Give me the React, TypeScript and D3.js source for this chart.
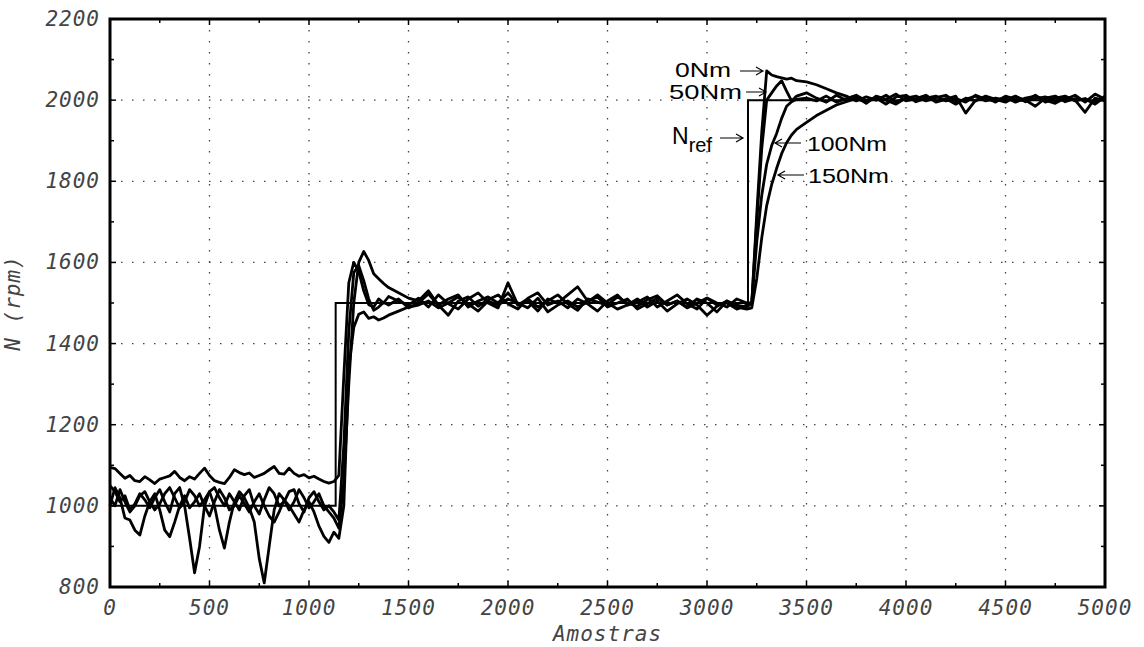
import React from "react";
import * as d3 from "d3";

// Sample index grid (Amostras)
const samples = [
  0, 25, 50, 75, 100, 125, 150, 175, 200, 225, 250, 275, 300, 325, 350, 375, 400, 425, 450, 475, 500, 525, 550, 575, 600, 625, 650, 675, 700, 725, 750, 775, 800, 825, 850, 875, 900, 925, 950, 975, 1000, 1025, 1050, 1075, 1100,
  1125, 1150, 1175, 1200, 1225, 1250, 1275, 1300, 1325, 1350, 1375, 1400,
  1450, 1500, 1550, 1600, 1650, 1700, 1750, 1800, 1850, 1900, 1950, 2000, 2050, 2100, 2150, 2200, 2250, 2300, 2350, 2400, 2450, 2500, 2550, 2600, 2650, 2700, 2750, 2800, 2850, 2900, 2950, 3000, 3050, 3100, 3150, 3200,
  3225, 3250, 3275, 3300, 3325, 3350, 3375, 3400, 3425, 3450,
  3500, 3550, 3600, 3650, 3700, 3750, 3800, 3850, 3900, 3950, 4000, 4050, 4100, 4150, 4200, 4250, 4300, 4350, 4400, 4450, 4500, 4550, 4600, 4650, 4700, 4750, 4800, 4850, 4900, 4950, 5000,
];

// Speed (rpm) for each load
const n0Nm = [
  1095, 1092, 1080, 1068, 1075, 1062, 1060, 1072, 1064, 1055, 1066, 1070, 1074, 1085, 1070, 1062, 1072, 1066, 1080, 1093, 1075, 1062, 1058, 1055, 1070, 1089, 1082, 1077, 1081, 1070, 1075, 1080, 1089, 1097, 1080, 1078, 1093, 1080, 1073, 1077, 1069, 1073, 1066, 1060, 1056,
  1060, 1075, 1320, 1550, 1600, 1578, 1530, 1496, 1490, 1510, 1500, 1516,
  1505, 1495, 1512, 1490, 1520, 1498, 1485, 1510, 1525, 1500, 1488, 1550, 1495, 1505, 1480, 1510, 1500, 1520, 1540, 1505, 1515, 1490, 1500, 1510, 1485, 1498, 1512, 1495, 1505, 1490, 1510, 1500, 1478, 1505, 1495, 1490,
  1500, 1720, 1920, 2072, 2062, 2058, 2055, 2052, 2054, 2048,
  2045, 2038, 2028, 2018, 2010, 1998, 2008, 2000, 2012, 1995, 2005, 2010, 1998, 2006, 2012, 1996, 2002, 2010, 1998, 2005, 2000, 2010, 1996, 2004, 2008, 1998, 2002, 2012, 1995, 2015, 2002,
];

const n50Nm = [
  1050, 1035, 1010, 1025, 990, 1005, 1030, 1015, 995, 1020, 1040, 1010, 985, 1030, 1045, 1000, 920, 835, 900, 1000, 1035, 1045, 1020, 1000, 1030, 1010, 990, 1025, 1040, 1000, 980, 1015, 1045, 1030, 1000, 1010, 1035, 1040, 1005, 985, 1020, 1035, 1010, 990, 1000,
  985, 965, 1150, 1430, 1575, 1592, 1555, 1510, 1482, 1490, 1502, 1495,
  1510, 1488, 1500, 1522, 1495, 1470, 1505, 1515, 1492, 1508, 1520, 1498, 1485, 1512, 1525, 1495, 1505, 1488, 1510, 1498, 1480, 1505, 1520, 1495, 1502, 1515, 1490, 1505, 1520, 1498, 1485, 1512, 1500, 1490, 1510, 1500,
  1500, 1700, 1880, 2000, 2018, 2035, 2048, 2022, 1998, 2010,
  2018, 2005, 1995, 2012, 2000, 2008, 1992, 2010, 2002, 2015, 1998, 2004, 2012, 1995, 2002, 2010, 1968, 2000, 2008, 1995, 2010, 2002, 1998, 2012, 1995, 2005, 2010, 1998, 2004, 1990, 2008,
];

const n100Nm = [
  1020, 1000, 1040, 1010, 985, 1000, 1025, 1035, 1010, 990, 1005, 1030, 1045, 1020, 995, 1010, 1040, 1025, 1000, 1015, 1035, 1000, 940, 896, 960, 1010, 1035, 1020, 995, 960, 870, 810, 900, 990, 1030, 1015, 990, 1010, 1040, 1020, 995, 1010, 1030, 1000, 985,
  970, 945, 1060, 1300, 1500, 1600, 1627, 1605, 1572, 1560, 1548, 1538,
  1525, 1512, 1505, 1530, 1495, 1510, 1520, 1490, 1505, 1515, 1500, 1525, 1495, 1510, 1490, 1505, 1520, 1498, 1482, 1510, 1502, 1495, 1515, 1500, 1492, 1508, 1518, 1495, 1505, 1488, 1500, 1512, 1495, 1500, 1485, 1495,
  1500, 1650, 1765, 1842, 1888, 1918, 1955, 1985, 1996, 2002,
  2005, 1998, 2010, 1995, 2004, 2012, 1998, 2005, 1990, 2008, 2012, 1996, 2005, 2010, 1998, 2004, 1995, 2012, 2002, 1998, 2008, 1995, 2005, 2010, 2000, 1992, 2006, 2000, 1970, 2005, 1998,
];

const n150Nm = [
  1000, 1045, 1020, 970, 965, 940, 928, 975, 1010, 1030, 990, 940, 924, 960, 1000, 1025, 995, 1010, 1030, 1000, 975, 1010, 1040, 1020, 990, 1000, 1025, 1005, 985, 1010, 1030, 1000, 975, 960, 985, 1015, 1000, 980, 960, 990, 1010, 985, 950, 925, 910,
  935, 920, 1000, 1340, 1440, 1472, 1478, 1462, 1466, 1458, 1463, 1470,
  1480, 1490, 1495, 1505, 1488, 1500, 1515, 1498, 1480, 1505, 1495, 1510, 1500, 1488, 1512, 1478, 1495, 1505, 1490, 1502, 1520, 1500, 1485, 1495, 1510, 1490, 1505, 1480, 1498, 1510, 1495, 1470, 1492, 1505, 1490, 1485,
  1488, 1560, 1660, 1740, 1792, 1832, 1868, 1895, 1914, 1928,
  1945, 1962, 1975, 1988, 1996, 2004, 1995, 2008, 2000, 1990, 2006, 2000, 2010, 1998, 2004, 1990, 2005, 1998, 2010, 2002, 1995, 2008, 2000, 1985, 2005, 2010, 1996, 2004, 2000, 1995, 2010,
];

// Reference speed N_ref (step)
const refSamples = [0, 1134, 1134, 3206, 3206, 5000];
const refValues = [1000, 1000, 1500, 1500, 2000, 2000];

const xTicks = [0, 500, 1000, 1500, 2000, 2500, 3000, 3500, 4000, 4500, 5000];
const yTicks = [800, 1000, 1200, 1400, 1600, 1800, 2000, 2200];

const series = [n0Nm, n50Nm, n100Nm, n150Nm];

export default function App() {
  const W = 1144, H = 647;
  const L = 110, R = 1105, T = 19, B = 587;
  const x = d3.scaleLinear().domain([0, 5000]).range([L, R]);
  const y = d3.scaleLinear().domain([800, 2200]).range([B, T]);
  const line = d3
    .line<[number, number]>()
    .x((d) => x(d[0]))
    .y((d) => y(d[1]));

  const minorX = d3.range(250, 5000, 500);
  const minorY = d3.range(900, 2200, 200);

  const tickFont = {
    fontFamily: "'DejaVu Sans Mono', monospace",
    fontStyle: "italic" as const,
    fontSize: 21,
    fill: "#444",
    letterSpacing: 1,
  };
  const annFont = {
    fontFamily: "'Liberation Sans', Arial, sans-serif",
    fontSize: 21,
    fill: "#000",
  };

  const arrow = (x1: number, yy: number, x2: number, key: string) => {
    const dir = x2 > x1 ? 1 : -1;
    const h = 7;
    const d = `M${x1},${yy}L${x2},${yy}M${x2 - dir * h},${yy - 4}L${x2},${yy}L${x2 - dir * h},${yy + 4}`;
    return <path key={key} d={d} fill="none" stroke="#000" strokeWidth={1.2} />;
  };

  return (
    <svg width={W} height={H} style={{ position: "absolute", left: 0, top: 0, background: "#fff" }}>
      <rect x={0} y={0} width={W} height={H} fill="#fff" />
      {/* grid */}
      <g stroke="#444" strokeWidth={1.3} strokeDasharray="1.5,9.5">
        {xTicks.slice(1, -1).map((t) => (
          <line key={"gx" + t} x1={x(t)} x2={x(t)} y1={T} y2={B} />
        ))}
        {yTicks.slice(1, -1).map((t) => (
          <line key={"gy" + t} x1={L} x2={R} y1={y(t)} y2={y(t)} />
        ))}
      </g>
      {/* ticks */}
      <g stroke="#000" strokeWidth={1.5}>
        {xTicks.map((t) => (
          <g key={"tx" + t}>
            <line x1={x(t)} x2={x(t)} y1={B} y2={B - 6} />
            <line x1={x(t)} x2={x(t)} y1={T} y2={T + 6} />
          </g>
        ))}
        {minorX.map((t) => (
          <g key={"mx" + t}>
            <line x1={x(t)} x2={x(t)} y1={B} y2={B - 4} />
            <line x1={x(t)} x2={x(t)} y1={T} y2={T + 4} />
          </g>
        ))}
        {yTicks.map((t) => (
          <g key={"ty" + t}>
            <line x1={L} x2={L + 6} y1={y(t)} y2={y(t)} />
            <line x1={R} x2={R - 6} y1={y(t)} y2={y(t)} />
          </g>
        ))}
        {minorY.map((t) => (
          <g key={"my" + t}>
            <line x1={L} x2={L + 4} y1={y(t)} y2={y(t)} />
            <line x1={R} x2={R - 4} y1={y(t)} y2={y(t)} />
          </g>
        ))}
      </g>
      {/* reference */}
      <path
        d={line(refSamples.map((s, i) => [s, refValues[i]] as [number, number])) || ""}
        fill="none"
        stroke="#000"
        strokeWidth={2}
      />
      {/* data series */}
      {series.map((vals, k) => (
        <path
          key={"s" + k}
          d={line(samples.slice(0, vals.length).map((s, i) => [s, vals[i]] as [number, number])) || ""}
          fill="none"
          stroke="#000"
          strokeWidth={2.8}
          strokeLinejoin="round"
        />
      ))}
      {/* frame */}
      <rect x={L} y={T} width={R - L} height={B - T} fill="none" stroke="#000" strokeWidth={3} />
      {/* tick labels */}
      {xTicks.map((t) => (
        <text key={"lx" + t} x={x(t)} y={615} textAnchor="middle" style={tickFont}>
          {t}
        </text>
      ))}
      {yTicks.map((t) => (
        <text key={"ly" + t} x={100} y={y(t) + 7} textAnchor="end" style={tickFont}>
          {t}
        </text>
      ))}
      <text x={(L + R) / 2} y={641} textAnchor="middle" style={tickFont}>
        Amostras
      </text>
      <text transform={`translate(20,${(T + B) / 2}) rotate(-90)`} textAnchor="middle" style={tickFont}>
        N (rpm)
      </text>
      {/* annotations */}
      <text x={675} y={77} textLength={56} lengthAdjust="spacingAndGlyphs" style={annFont}>0Nm</text>
      {arrow(740, 71, 763, "a0")}
      <text x={669} y={99} textLength={73} lengthAdjust="spacingAndGlyphs" style={annFont}>50Nm</text>
      {arrow(746, 92, 766, "a50")}
      <text x={672} y={144} style={{ ...annFont, fontSize: 23 }}>
        N<tspan dy={8} fontSize={20}>ref</tspan>
      </text>
      {arrow(720, 138, 743, "aref")}
      {arrow(801, 143, 775, "a100")}
      <text x={807} y={151} textLength={80} lengthAdjust="spacingAndGlyphs" style={annFont}>100Nm</text>
      {arrow(804, 175, 778, "a150")}
      <text x={808} y={183} textLength={81} lengthAdjust="spacingAndGlyphs" style={annFont}>150Nm</text>
    </svg>
  );
}
